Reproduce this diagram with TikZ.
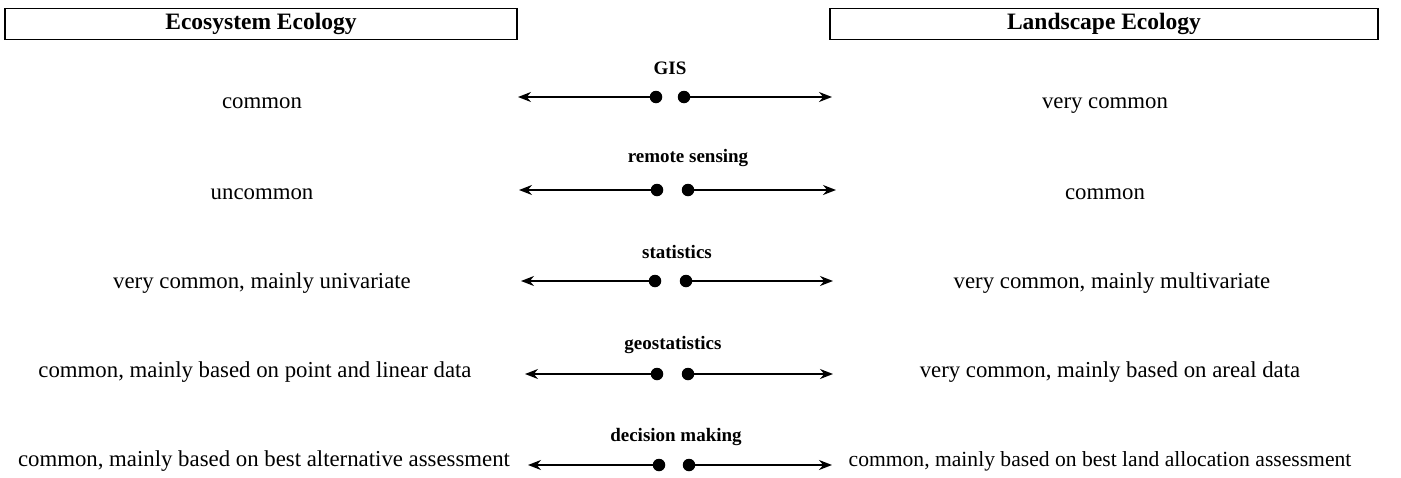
\documentclass[tikz,border=0pt]{standalone}
\usepackage{fontspec}
\setmainfont{Liberation Serif}
\usetikzlibrary{arrows.meta}
\begin{document}
\begin{tikzpicture}[x=1pt,y=-1pt,
  txt/.style={font=\fontsize{22.8}{26}\selectfont, inner sep=0pt, anchor=base},
  lbl/.style={font=\fontsize{19}{22}\selectfont\bfseries, inner sep=0pt},
  hdr/.style={draw, line width=1.4pt, font=\fontsize{23.5}{26}\selectfont\bfseries, inner sep=0pt},
  dotc/.style={circle, fill=black, inner sep=0pt, minimum size=12.5pt},
  arr/.style={-{Stealth[length=13pt,width=10pt]}, line width=1.6pt}]
\useasboundingbox (0,0) rectangle (1401,477);
% headers
\node[hdr, minimum width=512pt, minimum height=31pt] (eh) at (261,24) {Ecosystem Ecology};
\node[hdr, minimum width=548pt, minimum height=31pt] (lh) at (1104,24) {Landscape Ecology};
% row 1
\node[lbl] (g1) at (670,68) {GIS};
\node[dotc] (l1) at (656,97) {};
\node[dotc] (r1) at (684,97) {};
\coordinate (lt1) at (518,97);
\coordinate (rt1) at (832,97);
\draw[arr] (l1.center) -- (lt1);
\draw[arr] (r1.center) -- (rt1);
\node[txt] (a1) at (262,108) {common};
\node[txt] (b1) at (1105,108) {very common};
% row 2
\node[lbl] (g2) at (688,158) {remote sensing};
\node[dotc] (l2) at (657,190) {};
\node[dotc] (r2) at (688,190) {};
\coordinate (lt2) at (519,190);
\coordinate (rt2) at (836,190);
\draw[arr] (l2.center) -- (lt2);
\draw[arr] (r2.center) -- (rt2);
\node[txt] (a2) at (262,199) {uncommon};
\node[txt] (b2) at (1105,199) {common};
% row 3
\node[lbl] (g3) at (677,252) {statistics};
\node[dotc] (l3) at (655,281) {};
\node[dotc] (r3) at (686,281) {};
\coordinate (lt3) at (521,281);
\coordinate (rt3) at (833,281);
\draw[arr] (l3.center) -- (lt3);
\draw[arr] (r3.center) -- (rt3);
\node[txt] (a3) at (262,288) {very common, mainly univariate};
\node[txt] (b3) at (1112,288) {very common, mainly multivariate};
% row 4
\node[lbl] (g4) at (673,345) {geostatistics};
\node[dotc] (l4) at (657,374) {};
\node[dotc] (r4) at (688,374) {};
\coordinate (lt4) at (525,374);
\coordinate (rt4) at (833,374);
\draw[arr] (l4.center) -- (lt4);
\draw[arr] (r4.center) -- (rt4);
\node[txt] (a4) at (255,377) {common, mainly based on point and linear data};
\node[txt] (b4) at (1110,377) {very common, mainly based on areal data};
% row 5
\node[lbl] (g5) at (676,437) {decision making};
\node[dotc] (l5) at (659,465) {};
\node[dotc] (r5) at (689,465) {};
\coordinate (lt5) at (528,465);
\coordinate (rt5) at (832,465);
\draw[arr] (l5.center) -- (lt5);
\draw[arr] (r5.center) -- (rt5);
\node[txt] (a5) at (264,466) {common, mainly based on best alternative assessment};
\node[txt, font=\fontsize{21.6}{24}\selectfont] (b5) at (1100,466) {common, mainly based on best land allocation assessment};
\end{tikzpicture}
\end{document}
